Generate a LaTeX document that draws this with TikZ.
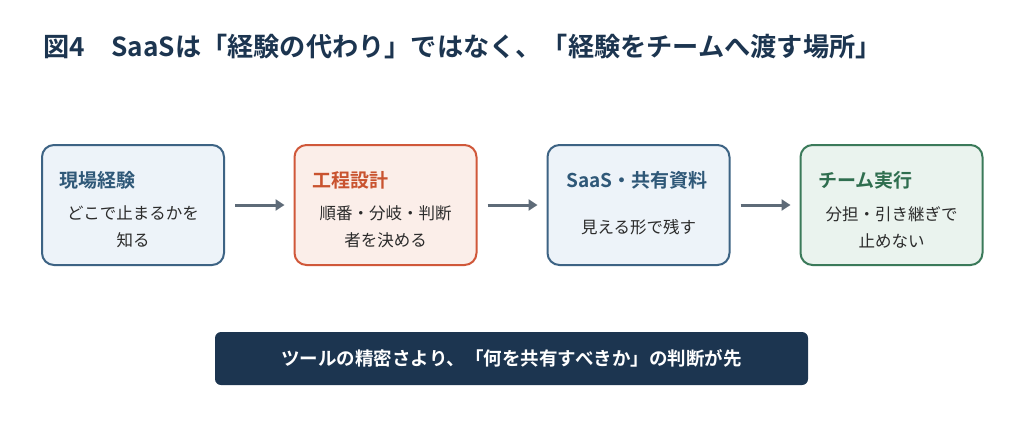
\documentclass[tikz,border=0pt]{standalone}
\usepackage{fontspec}
\setmainfont{Noto Sans CJK JP}[BoldFont={Noto Sans CJK JP Bold}]
\usetikzlibrary{arrows.meta}
\definecolor{navy}{HTML}{1C3550}
\definecolor{bluebd}{HTML}{3D6384}
\definecolor{bluefl}{HTML}{EDF3F9}
\definecolor{bluetx}{HTML}{2F5878}
\definecolor{redbd}{HTML}{D0583A}
\definecolor{redfl}{HTML}{FBEEE9}
\definecolor{redtx}{HTML}{C9532F}
\definecolor{grnbd}{HTML}{3B7A5A}
\definecolor{grnfl}{HTML}{EAF3EE}
\definecolor{grntx}{HTML}{2F6E4F}
\definecolor{arr}{HTML}{5E6B78}
\definecolor{body}{HTML}{2B2B2B}
\begin{document}
\begin{tikzpicture}[x=1pt,y=-1pt,
  box/.style={draw, line width=2pt, rounded corners=12pt, minimum width=182pt, minimum height=120pt, inner sep=0pt},
  ttl/.style={font=\bfseries\fontsize{19}{22}\selectfont, anchor=west},
  txt/.style={font=\fontsize{16.5}{27}\selectfont, align=center, text=body},
  ar/.style={draw=arr, line width=3pt, -{Triangle[length=9pt,width=11pt]}}]
\useasboundingbox[fill=white] (0,0) rectangle (1024,437);
\node[anchor=west, text=navy, font=\bfseries\fontsize{26.2}{30}\selectfont] (title) at (40,47) {図4\hspace{1em}SaaSは「経験の代わり」ではなく、「経験をチームへ渡す場所」};
\node[box, draw=bluebd, fill=bluefl] (b1) at (133,205) {};
\node[box, draw=redbd, fill=redfl] (b2) at (385.5,205) {};
\node[box, draw=bluebd, fill=bluefl] (b3) at (638.5,205) {};
\node[box, draw=grnbd, fill=grnfl] (b4) at (891.5,205) {};
\node[ttl, text=bluetx] (t1) at (56,180) {現場経験};
\node[ttl, text=redtx] (t2) at (309,180) {工程設計};
\node[ttl, text=bluetx] (t3) at (563,180) {SaaS・共有資料};
\node[ttl, text=grntx] (t4) at (815,180) {チーム実行};
\node[txt] (x1) at (133,227) {どこで止まるかを\\知る};
\node[txt] (x2) at (385.5,227) {順番・分岐・判断\\者を決める};
\node[txt] (x3) at (638.5,227) {見える形で残す};
\node[txt] (x4) at (891.5,227) {分担・引き継ぎで\\止めない};
\draw[ar] ([xshift=10pt]b1.east) -- ([xshift=-9pt]b2.west);
\draw[ar] ([xshift=10pt]b2.east) -- ([xshift=-9pt]b3.west);
\draw[ar] ([xshift=10pt]b3.east) -- ([xshift=-9pt]b4.west);
\node[fill=navy, rounded corners=6pt, minimum width=593pt, minimum height=53pt, text=white, font=\bfseries\fontsize{18.5}{21}\selectfont] (ban) at (511.5,358.5) {ツールの精密さより、「何を共有すべきか」の判断が先};
\end{tikzpicture}
\end{document}
